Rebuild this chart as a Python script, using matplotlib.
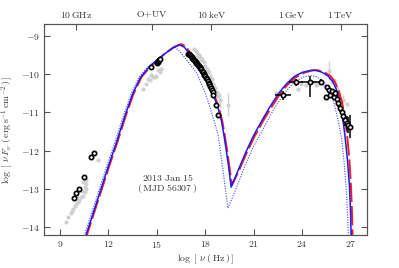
import matplotlib
matplotlib.use("Agg")
import matplotlib.pyplot as plt
from matplotlib.ticker import FuncFormatter, FixedLocator
import numpy as np

plt.rcParams['mathtext.fontset'] = 'cm'
plt.rcParams['font.family'] = ['DejaVu Serif']
plt.rcParams['font.size'] = 7

# ---------------- model curves (log nu, log nuFnu) ----------------
blue_x = [10.5, 11.0, 11.5, 12.0, 12.5, 13.0, 13.5, 14.0, 14.5, 15.0, 15.5, 16.0, 16.4,
          16.7, 17.0, 17.35, 17.65, 18.0, 18.3, 18.6, 18.8, 19.0, 19.15, 19.3, 19.45, 19.6,
          20.0, 20.5, 21.0, 21.5, 22.0, 22.5, 23.0, 23.5, 24.0, 24.5, 24.8, 25.2, 25.6,
          25.9, 26.1, 26.3, 26.5, 26.65, 26.8, 26.93, 27.0, 27.04]
blue_y = [-14.35, -13.7, -13.05, -12.4, -11.78, -11.12, -10.52, -10.08, -9.83, -9.64, -9.47,
          -9.32, -9.24, -9.3, -9.46, -9.65, -9.83, -10.08, -10.36, -10.66, -10.9, -11.22,
          -11.58, -11.99, -12.43, -12.95, -12.55, -12.05, -11.6, -11.22, -10.86, -10.53,
          -10.27, -10.07, -9.96, -9.91, -9.9, -9.95, -10.05, -10.2, -10.38, -10.65, -11.1,
          -11.6, -12.2, -12.9, -13.6, -14.3]

red_x = [10.55, 11.05, 11.55, 12.05, 12.55, 13.05, 13.55, 14.05, 14.55, 15.05, 15.55, 16.05,
         16.5, 16.8, 17.05, 17.4, 17.7, 18.05, 18.35, 18.65, 18.85, 19.05, 19.2, 19.35,
         19.5, 19.65, 20.05, 20.55, 21.05, 21.55, 22.05, 22.55, 23.05, 23.55, 24.1, 24.6,
         24.95, 25.35, 25.75, 26.05, 26.25, 26.45, 26.65, 26.8, 26.93, 27.03, 27.09, 27.13]
red_y = [-14.35, -13.7, -13.05, -12.4, -11.78, -11.12, -10.52, -10.08, -9.83, -9.63, -9.45,
         -9.3, -9.22, -9.28, -9.44, -9.64, -9.82, -10.07, -10.35, -10.65, -10.9, -11.22,
         -11.58, -11.99, -12.43, -12.9, -12.55, -12.07, -11.63, -11.25, -10.9, -10.57,
         -10.3, -10.1, -9.97, -9.91, -9.9, -9.95, -10.05, -10.22, -10.42, -10.7, -11.15,
         -11.65, -12.25, -12.95, -13.6, -14.3]

dot_x = [10.4, 10.9, 11.4, 11.9, 12.4, 12.9, 13.4, 13.9, 14.4, 14.9, 15.4, 15.9, 16.15,
         16.5, 17.0, 17.5, 18.0, 18.3, 18.6, 18.8, 19.0, 19.2, 19.4,
         19.9, 20.5, 21.0, 21.5, 22.0, 22.5, 23.0, 23.5, 24.0, 24.5, 24.9, 25.3, 25.7,
         26.0, 26.25, 26.45, 26.6, 26.75, 26.88]
dot_y = [-14.35, -13.7, -13.05, -12.4, -11.78, -11.12, -10.52, -10.08, -9.83, -9.66, -9.5,
         -9.35, -9.31, -9.45, -9.72, -10.0, -10.5, -10.88, -11.3, -11.6, -12.2, -12.85,
         -13.5, -13.0, -12.35, -11.88, -11.5, -11.1, -10.75, -10.45, -10.22, -10.09,
         -10.04, -10.07, -10.2, -10.45, -10.8, -11.25, -11.7, -12.3, -13.1, -14.3]

# ---------------- historical (grey) data ----------------
gray_x = [9.36, 9.5, 9.65, 9.72, 9.81, 9.92, 10.0, 10.12, 10.2, 10.3, 10.43, 10.53, 10.64,
          10.64, 10.55, 10.45, 10.6, 10.35, 10.05, 11.34,
          14.14, 14.35, 14.55, 14.76, 14.97, 15.17, 15.28, 14.45, 14.65, 14.86, 15.07,
          17.3, 17.4, 17.5, 17.6, 17.7, 17.8, 17.9, 18.0, 18.1, 18.2, 18.3, 18.4, 18.5,
          18.6, 18.7, 18.8, 18.9, 17.5, 17.7, 17.9, 18.1, 18.3, 18.5, 18.7,
          22.4, 23.52, 23.73, 23.94, 24.25, 24.76, 24.86, 25.0, 25.35, 26.1, 26.3, 26.76,
          26.0, 25.85]
gray_y = [-13.86, -13.74, -13.63, -13.57, -13.52, -13.43, -13.38, -13.35, -13.28, -13.22,
          -13.17, -13.09, -13.0, -12.87, -12.95, -12.82, -12.77, -13.05, -13.2, -12.24,
          -10.38, -10.25, -10.17, -10.08, -10.04, -9.95, -9.87, -10.12, -10.02, -10.08, -9.9,
          -9.36, -9.4, -9.45, -9.5, -9.56, -9.62, -9.7, -9.78, -9.86, -9.95, -10.04, -10.14,
          -10.25, -10.36, -10.47, -10.58, -10.68, -9.55, -9.67, -9.8, -9.95, -10.12, -10.3,
          -10.5,
          -10.5, -10.17, -10.39, -10.25, -10.3, -10.21, -10.3, -10.25, -10.3, -10.34,
          -10.52, -10.78, -10.15, -10.2]
gray_ex = [18.9, 19.4, 25.69, 26.51, 26.2]
gray_ey = [-10.69, -10.8, -9.91, -10.69, -10.45]
gray_eyerr = [0.2, 0.3, 0.26, 0.15, 0.12]

# ---------------- 2013 Jan 15 (black) data ----------------
radio_x = [9.87, 10.02, 10.16, 10.47, 10.89, 11.11]
radio_y = [-13.23, -13.11, -13.0, -12.68, -12.16, -12.05]

opt_x = [14.66, 14.98, 15.04, 15.1, 15.16, 15.22]
opt_y = [-9.82, -9.72, -9.69, -9.66, -9.63, -9.61]

xr_x = [16.95, 17.0, 17.05, 17.1, 17.15, 17.2, 17.25, 17.3, 17.35, 17.4, 17.45, 17.5,
        17.55, 17.6, 17.65, 17.7, 17.75, 17.8, 17.85, 17.9, 17.95, 18.0, 18.05, 18.1,
        18.15, 18.2, 18.25, 18.3, 18.35, 18.4, 18.45, 18.5, 18.64, 18.78]
xr_y = [-9.47, -9.48, -9.5, -9.53, -9.55, -9.58, -9.6, -9.63, -9.66, -9.69, -9.72, -9.75,
        -9.77, -9.8, -9.82, -9.85, -9.88, -9.92, -9.95, -9.99, -10.02, -10.06, -10.1,
        -10.14, -10.18, -10.23, -10.27, -10.32, -10.37, -10.42, -10.48, -10.54, -10.82,
        -11.08]

gev_x = [22.8, 23.63, 24.5, 25.2]
gev_y = [-10.56, -10.22, -10.21, -10.21]
gev_xerr = [0.5, 0.42, 0.55, 0.0]
gev_yerr_lo = [0.12, 0.1, 0.39, 0.07]
gev_yerr_hi = [0.12, 0.1, 0.17, 0.07]

tev_x = [25.45, 25.55, 25.65, 25.75, 25.85, 25.95, 26.05, 26.15, 26.25, 26.35, 26.45,
         26.55, 26.65, 26.75, 26.85, 26.95]
tev_y = [-10.6, -10.35, -10.42, -10.55, -10.45, -10.6, -10.5, -10.65, -10.75, -10.88,
         -10.98, -11.1, -11.2, -11.28, -11.33, -11.38]
tev_yerr = [0.05, 0.06, 0.06, 0.07, 0.07, 0.08, 0.08, 0.09, 0.1, 0.1, 0.12, 0.13, 0.15,
            0.18, 0.22, 0.3]

top_ticks = [10.0, 14.7, 18.38, 23.38, 26.38]
top_labels = [r'$10\,\mathrm{GHz}$', r'$\mathrm{O\!+\!UV}$', r'$10\,\mathrm{keV}$',
              r'$1\,\mathrm{GeV}$', r'$1\,\mathrm{TeV}$']

# ---------------- figure ----------------
fig = plt.figure(figsize=(3.99, 2.68), dpi=100)
ax = fig.add_axes([0.110, 0.123, 0.809, 0.787])

gcol = '#d0d0d0'
ax.plot(gray_x, gray_y, 'o', color=gcol, ms=3.0, mec='none', zorder=1)
ax.errorbar(gray_ex, gray_ey, yerr=gray_eyerr, fmt='o', color=gcol, ms=3.0, mec='none',
            elinewidth=1.0, capsize=0, zorder=1)

ax.plot(red_x, red_y, color='#ff1a1a', lw=1.4, ls=(0, (10, 2)), zorder=3)
ax.plot(blue_x, blue_y, color='#1a1aff', lw=1.1, zorder=4)
ax.plot(dot_x, dot_y, color='#4545ff', lw=0.8, ls=(0, (1, 1.3)), zorder=3)

mk = dict(fmt='o', mfc='white', mec='black', color='black', ms=3.1, mew=1.2,
          elinewidth=1.1, capsize=0, zorder=5)
ax.errorbar(radio_x, radio_y, **mk)
ax.errorbar(opt_x, opt_y, **mk)
ax.errorbar(xr_x, xr_y, **mk)
ax.errorbar(gev_x, gev_y, xerr=gev_xerr, yerr=[gev_yerr_lo, gev_yerr_hi], **mk)
ax.errorbar(tev_x, tev_y, yerr=tev_yerr, **mk)

ax.set_xlim(8, 28)
ax.set_ylim(-14.2, -8.7)

ax.xaxis.set_major_locator(FixedLocator([9, 12, 15, 18, 21, 24, 27]))
ax.yaxis.set_major_locator(FixedLocator([-14, -13, -12, -11, -10, -9]))
fmt = FuncFormatter(lambda v, p: r'$%d$' % int(round(v)))
ax.xaxis.set_major_formatter(fmt)
ax.yaxis.set_major_formatter(fmt)

scol = '#555555'
for s in ax.spines.values():
    s.set_color(scol)
    s.set_linewidth(0.8)
ax.tick_params(direction='in', length=4, width=0.8, color=scol, labelcolor='#333333',
               labelsize=7, pad=3, right=True)

ax2 = ax.twiny()
ax2.set_xlim(ax.get_xlim())
ax2.xaxis.set_major_locator(FixedLocator(top_ticks))
ax2.set_xticklabels(top_labels)
ax2.tick_params(direction='in', length=4, width=0.8, color=scol, labelcolor='#333333',
                labelsize=7, pad=3)
for s in ax2.spines.values():
    s.set_color(scol)
    s.set_linewidth(0.8)

ax.set_xlabel(r'$\log\ [\ \nu\ (\,\mathrm{Hz}\,)\,]$', color='#333333', fontsize=7,
              labelpad=2)
ax.set_ylabel(r'$\log\ [\ \nu\, F_\nu\ (\,\mathrm{erg\,s^{-1}\,cm^{-2}}\,)\,]$',
              color='#333333', fontsize=7, labelpad=4)

ax.text(15.65, -12.69, r'$\mathrm{2013\ Jan\ 15}$', ha='center', va='center',
        fontsize=7, color='#333333')
ax.text(15.65, -12.98, r'$(\,\mathrm{MJD\ 56307}\,)$', ha='center', va='center',
        fontsize=7, color='#333333')

fig.savefig('out.png', dpi=100)
